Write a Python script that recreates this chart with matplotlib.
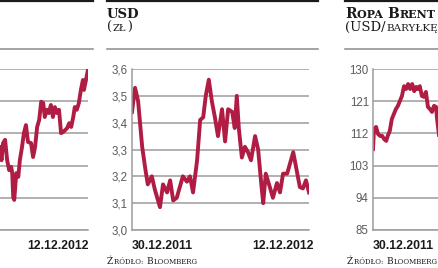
import matplotlib
matplotlib.use("Agg")
import matplotlib.pyplot as plt
from matplotlib.lines import Line2D

W, H = 439, 268

# --- data (x = days since 30.12.2011) ---
left_days = [169, 175, 178, 181, 185, 189, 193, 197, 199, 201, 203, 207, 211, 214,
             218, 222, 226, 230, 236, 240, 244, 248, 252, 256, 260, 263, 267, 271,
             275, 279, 283, 287, 291, 295, 299, 303, 307, 311, 315, 319, 322, 326,
             330, 334, 338, 340, 344, 348]
left_vals = [2300, 2310, 2260, 2324, 2336, 2260, 2223, 2235, 2212, 2122, 2112, 2212,
             2198, 2260, 2306, 2361, 2391, 2328, 2324, 2272, 2310, 2384, 2410, 2478,
             2473, 2421, 2448, 2436, 2466, 2421, 2458, 2436, 2448, 2361, 2365, 2372,
             2380, 2398, 2384, 2421, 2458, 2448, 2473, 2522, 2559, 2522, 2559, 2598]
left_ticks = [2000, 2120, 2240, 2360, 2480, 2600]

usd_days = [0, 6, 12, 20, 26, 31, 39, 45, 55, 61, 69, 75, 81, 88, 94, 100, 108, 114,
            120, 128, 134, 140, 145, 151, 157, 163, 169, 177, 183, 189, 197, 202, 206,
            210, 216, 222, 228, 234, 242, 248, 254, 258, 263, 271, 277, 285, 291, 297,
            305, 311, 317, 324, 330, 336, 342, 348]
usd_vals = [3.44, 3.53, 3.48, 3.31, 3.23, 3.17, 3.20, 3.15, 3.085, 3.17, 3.14, 3.185,
            3.11, 3.12, 3.16, 3.20, 3.18, 3.20, 3.14, 3.26, 3.41, 3.42, 3.50, 3.56,
            3.48, 3.42, 3.35, 3.45, 3.33, 3.45, 3.44, 3.38, 3.50, 3.38, 3.27, 3.31,
            3.29, 3.26, 3.35, 3.30, 3.175, 3.10, 3.21, 3.16, 3.12, 3.175, 3.14, 3.21,
            3.21, 3.25, 3.29, 3.22, 3.16, 3.155, 3.185, 3.14]
usd_ticks = [3.0, 3.1, 3.2, 3.3, 3.4, 3.5, 3.6]
usd_labels = ["3,0", "3,1", "3,2", "3,3", "3,4", "3,5", "3,6"]

brent_days = [0, 2, 6, 10, 14, 18, 22, 26, 29, 33, 37, 41, 45, 49, 53, 57, 61, 65, 69,
              73, 77, 81, 85, 88, 92, 96, 100, 104, 108, 112, 116, 120, 124, 126, 130, 134]
brent_vals = [107.6, 113.2, 113.8, 111.8, 111.3, 111.3, 110.4, 109.9, 111.3, 112.7,
              116.0, 117.4, 118.8, 119.7, 121.1, 122.5, 125.2, 124.4, 125.8, 124.4,
              125.8, 123.8, 125.0, 124.4, 125.2, 122.5, 122.2, 123.6, 119.4, 118.8,
              118.0, 119.7, 119.4, 116.0, 111.3, 108.0]
brent_ticks = [85, 94, 103, 112, 121, 130]

RED = "#b01c43"
GRID = "#9c9c9c"
SANS = "Liberation Sans"

fig = plt.figure(figsize=(W / 100, H / 100), dpi=100)
fig.patch.set_facecolor("white")


def fx(x):
    return x / W


def fy(y):
    return 1 - y / H


def hline(x0, x1, y, color, lw):
    fig.add_artist(Line2D([fx(x0), fx(x1)], [fy(y), fy(y)], color=color, lw=lw,
                          transform=fig.transFigure))


def runs(x, y, parts, color="#1a1a1a", family="DejaVu Serif"):
    # draw text pieces one after another (fake small caps)
    r = fig.canvas.get_renderer()
    for txt, size, weight in parts:
        t = fig.text(fx(x), fy(y), txt, fontsize=size, fontweight=weight,
                     family=family, color=color, va="baseline", ha="left")
        bb = t.get_window_extent(renderer=r)
        x += bb.width + 0.6


def panel(left_px, days, vals, ticks, labels):
    ax = fig.add_axes([fx(left_px), fy(230), 177 / W, 161 / H])
    ax.plot(days, vals, color=RED, lw=2.8, solid_joinstyle="round")
    ax.set_xlim(0, 348)
    ax.set_ylim(ticks[0], ticks[-1])
    ax.set_yticks(ticks)
    ax.set_xticks([])
    ax.grid(axis="y", color=GRID, lw=1.1)
    ax.set_axisbelow(True)
    for s in ("top", "right"):
        ax.spines[s].set_visible(False)
    for s in ("left", "bottom"):
        ax.spines[s].set_color(GRID)
        ax.spines[s].set_linewidth(1.1)
    if labels is None:
        ax.tick_params(axis="y", length=0, labelleft=False)
    else:
        ax.set_yticklabels(labels, family=SANS)
        ax.tick_params(axis="y", length=0, pad=3, labelsize=8.3, labelcolor="#5a5a5a")
    ax.patch.set_alpha(0)
    return ax


# left panel is cut by the picture edge, its scale labels lie outside
panel(-89, left_days, left_vals, left_ticks, None)
panel(132, usd_days, usd_vals, usd_ticks, usd_labels)
panel(373, brent_days, brent_vals, brent_ticks, [str(t) for t in brent_ticks])

# header rules
for a, b in [(0, 93), (107, 318), (345, 439)]:
    hline(a, b, 0.8, "#1a1a1a", 1.6)
    hline(a, b, 49, "#8a8a8a", 1.1)

# titles
runs(107, 18, [("USD", 9.5, "bold")])
runs(107, 31, [("(", 9, "normal"), ("ZŁ", 7, "normal"), (")", 9, "normal")])
runs(345, 18, [("R", 10, "bold"), ("OPA ", 8, "bold"), ("B", 10, "bold"),
               ("RENT", 8, "bold")])
runs(345, 31, [("(USD/", 9.5, "normal"), ("BARYŁKĘ)", 7.5, "normal")])

# dates
date_kw = dict(family=SANS, fontweight="bold", fontsize=8.8, color="#1a1a1a",
               va="baseline")
fig.text(fx(89), fy(249), "12.12.2012", ha="right", **date_kw)
fig.text(fx(132), fy(249), "30.12.2011", ha="left", **date_kw)
fig.text(fx(314), fy(249), "12.12.2012", ha="right", **date_kw)
fig.text(fx(373), fy(249), "30.12.2011", ha="left", **date_kw)

# source notes
src = [("Ź", 6.5, "normal"), ("RÓDŁO: ", 5, "normal"), ("B", 6.5, "normal"),
       ("LOOMBERG", 5, "normal")]
runs(107, 264, src)
runs(347, 264, src)

fig.savefig("out.png", dpi=100)
